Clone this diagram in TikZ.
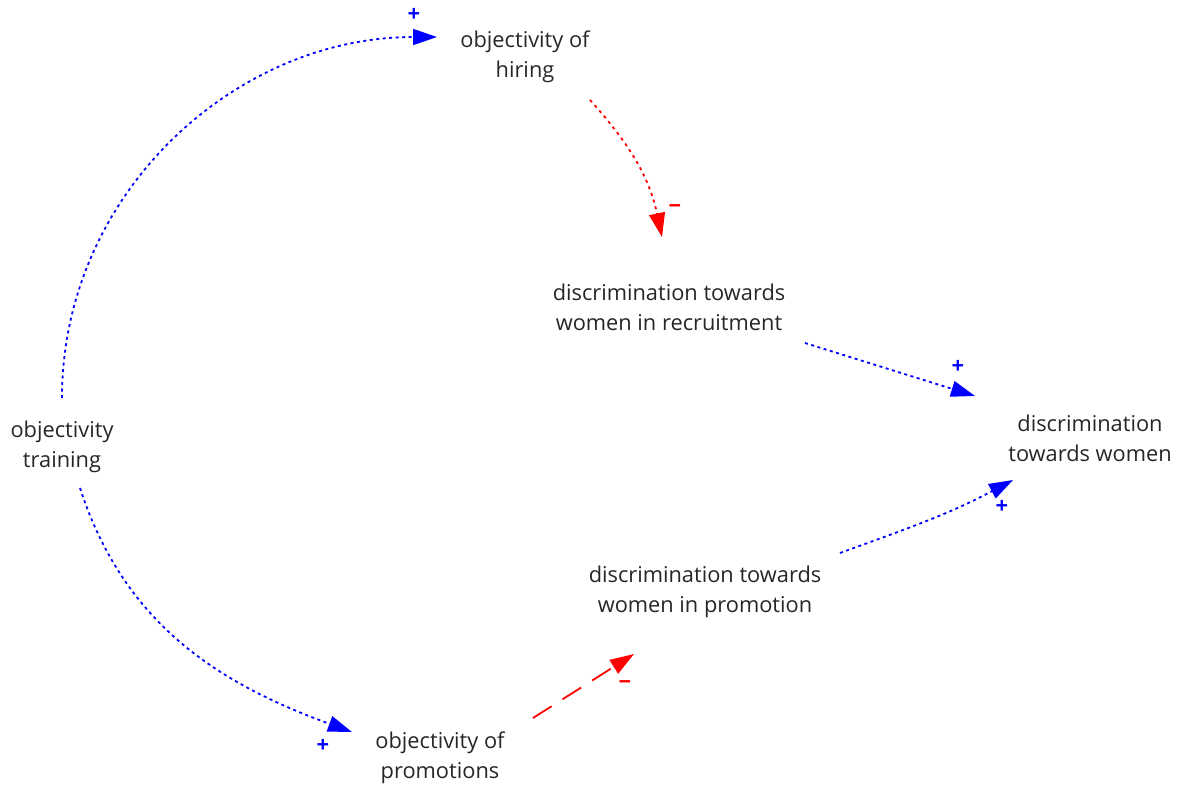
\documentclass[tikz,border=0pt]{standalone}
\usepackage{fontspec}
\setmainfont{Open Sans}
\usetikzlibrary{arrows.meta}
\begin{document}
\begin{tikzpicture}[x=1pt,y=-1pt,
  var/.style={align=center,inner sep=0pt,text=black!85,
    font=\fontsize{21.8}{30}\selectfont},
  sign/.style={inner sep=0pt,font=\fontsize{22}{22}\selectfont\bfseries},
  link/.style={line width=1.8pt,-{Triangle[length=24pt,width=16pt]}},
  poslink/.style={link,blue,dash pattern=on 3pt off 3.5pt},
  negdot/.style={link,red,dash pattern=on 3pt off 4pt},
  negdash/.style={link,red,dash pattern=on 22pt off 13pt}]
\useasboundingbox (0,0) rectangle (1178,785);

% variables
\node[var] (hiring)    at (525,57)  {objectivity of\\hiring};
\node[var] (recruit)   at (669,307) {discrimination towards\\women in recruitment};
\node[var] (women)     at (1090,438){discrimination\\towards women};
\node[var] (training)  at (62,447)  {objectivity\\training};
\node[var] (promotion) at (705,592) {discrimination towards\\women in promotion};
\node[var] (promos)    at (440,758) {objectivity of\\promotions};

% causal links
\draw[poslink] ([shift={(0,-49)}]training.center) to[out=90,in=180]
  ([shift={(-88,-20)}]hiring.center);
\draw[poslink] ([shift={(18,41)}]training.center) to[out=-72,in=160]
  ([shift={(-88,-26)}]promos.center);
\draw[negdot] ([shift={(65,43)}]hiring.center) to[out=-48,in=102]
  ([shift={(-7,-70)}]recruit.center);
\draw[poslink] ([shift={(136,36)}]recruit.center) --
  ([shift={(-115,-42)}]women.center);
\draw[poslink] ([shift={(135,-39)}]promotion.center) to[out=20,in=-152]
  ([shift={(-77,42)}]women.center);
\draw[negdash] ([shift={(93,-40)}]promos.center) --
  ([shift={(-71,62)}]promotion.center);

% polarities
\node[sign,blue] (p1) at (414,15)  {+};
\node[sign,blue] (p2) at (958,367) {+};
\node[sign,blue] (p3) at (1002,507){+};
\node[sign,blue] (p4) at (323,746) {+};
\node[sign,red]  (m1) at (675,209) {−};
\node[sign,red]  (m2) at (625,685) {−};
\end{tikzpicture}
\end{document}
